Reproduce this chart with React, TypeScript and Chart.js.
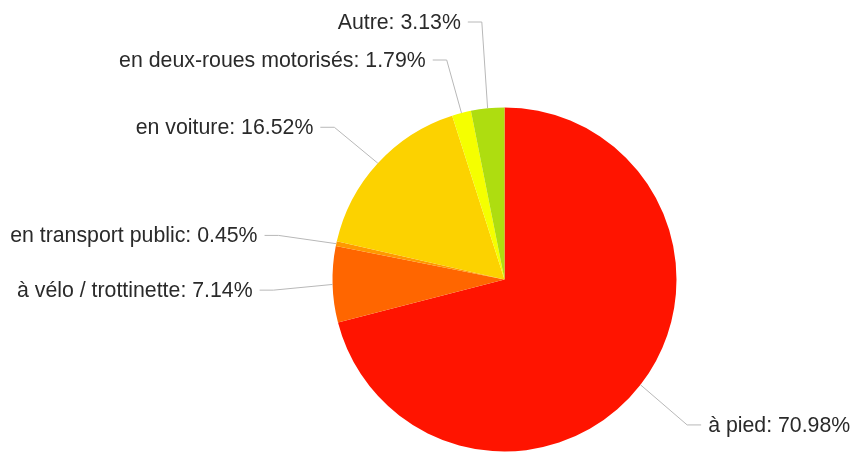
import React, { useEffect, useRef } from "react";
import { Chart, registerables } from "chart.js";

Chart.register(...registerables);

const categories = [
  "à pied",
  "à vélo / trottinette",
  "en transport public",
  "en voiture",
  "en deux-roues motorisés",
  "Autre",
];
const values = [70.98, 7.14, 0.45, 16.52, 1.79, 3.13];
const colors = ["#FF1400", "#FF6600", "#FF9900", "#FCD200", "#F5FF00", "#AEDD10"];

const FONT = '21.3px "Liberation Sans", Arial, sans-serif';
const LINE_EXT = 59;
const Y_SHIFT = 4;
const H_SEG = 14;
const TEXT_GAP = 7;
const MIN_GAP = 38;
const MIN_Y = 22;

const labelPlugin = {
  id: "pieLabels",
  afterDatasetsDraw(chart: any) {
    const ctx = chart.ctx;
    const meta = chart.getDatasetMeta(0);
    const items: any[] = [];
    meta.data.forEach((arc: any, i: number) => {
      const p = arc.getProps(["x", "y", "startAngle", "endAngle", "outerRadius"], true);
      const mid = (p.startAngle + p.endAngle) / 2;
      const dx = Math.cos(mid);
      const dy = Math.sin(mid);
      const r = p.outerRadius;
      items.push({
        i,
        ax: p.x + r * dx,
        ay: p.y + r * dy,
        ex: p.x + (r + LINE_EXT) * dx,
        y: p.y + (r + LINE_EXT) * dy + Y_SHIFT,
        right: dx >= 0,
      });
    });
    [true, false].forEach((side) => {
      const group = items.filter((it) => it.right === side);
      group.sort((a, b) => b.y - a.y);
      for (let k = 1; k < group.length; k++) {
        group[k].y = Math.min(group[k].y, group[k - 1].y - MIN_GAP);
      }
      group.sort((a, b) => a.y - b.y);
      if (group.length) group[0].y = Math.max(group[0].y, MIN_Y);
      for (let k = 1; k < group.length; k++) {
        group[k].y = Math.max(group[k].y, group[k - 1].y + MIN_GAP);
      }
    });
    ctx.save();
    ctx.font = FONT;
    ctx.textBaseline = "middle";
    items.forEach((it) => {
      const s = it.right ? 1 : -1;
      ctx.strokeStyle = "#b8b8b8";
      ctx.lineWidth = 1;
      ctx.beginPath();
      ctx.moveTo(it.ax, it.ay);
      ctx.lineTo(it.ex, it.y);
      ctx.lineTo(it.ex + s * H_SEG, it.y);
      ctx.stroke();
      ctx.fillStyle = "#2a2a2a";
      ctx.textAlign = it.right ? "left" : "right";
      const txt = categories[it.i] + ": " + values[it.i].toFixed(2) + "%";
      ctx.fillText(txt, it.ex + s * (H_SEG + TEXT_GAP), it.y + 1);
    });
    ctx.restore();
  },
};

export default function App() {
  const ref = useRef<HTMLCanvasElement>(null);
  useEffect(() => {
    if (!ref.current) return;
    const chart = new Chart(ref.current, {
      type: "pie",
      data: {
        labels: categories,
        datasets: [
          {
            data: values,
            backgroundColor: colors,
            borderWidth: 0,
          },
        ],
      },
      options: {
        responsive: false,
        animation: false,
        layout: { padding: { left: 332.5, right: 175.5, top: 107.5, bottom: 0.5 } },
        plugins: {
          legend: { display: false },
          tooltip: { enabled: false },
        },
      },
      plugins: [labelPlugin],
    });
    return () => chart.destroy();
  }, []);
  return (
    <div style={{ position: "absolute", left: 0, top: 0, width: 852, height: 452, background: "#fff" }}>
      <canvas ref={ref} width={852} height={452} style={{ display: "block" }} />
    </div>
  );
}
